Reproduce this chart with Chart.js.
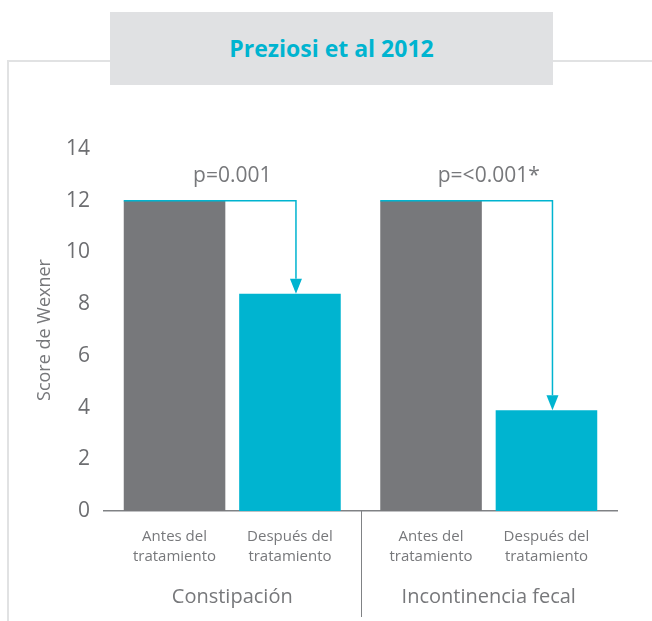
<!DOCTYPE html>
<html>
<head>
    <meta charset="UTF-8">
    <script src="https://cdn.jsdelivr.net/npm/chart.js"></script>
    <style>
        body { margin: 0; background: #fff; overflow: hidden; }
        .frame-top { position: absolute; left: 7px; top: 60px; width: 645px; height: 2px; background: #e1e2e3; }
        .frame-left { position: absolute; left: 7px; top: 60px; width: 2px; height: 561px; background: #e1e2e3; }
        .title-box {
            position: absolute; left: 110px; top: 12px; width: 443px; height: 73px;
            background: #e0e1e3; color: #00b4d0;
            font-family: "Open Sans", sans-serif; font-weight: 700; font-size: 23px;
            line-height: 73px; text-align: center;
        }
        .chart-container { position: absolute; left: 0; top: 0; width: 652px; height: 621px; }
    </style>
</head>
<body>
    <div class="frame-top"></div>
    <div class="frame-left"></div>
    <div class="title-box">Preziosi et al 2012</div>
    <div class="chart-container">
        <canvas id="wexnerChart"></canvas>
    </div>

    <script>
        // data
        const groups = ['Constipación', 'Incontinencia fecal'];
        const phaseLabels = [['Antes del', 'tratamiento'], ['Después del', 'tratamiento']];
        const antes = [12, 12];
        const despues = [8.4, 3.9];
        const pValues = ['p=0.001', 'p=<0.001*'];
        const yMax = 14;
        const yStep = 2;

        const grey = '#77787b';
        const teal = '#00b4d0';
        const textGrey = '#77787b';

        Chart.defaults.font.family = '"Open Sans", sans-serif';
        Chart.defaults.color = textGrey;

        // sub labels, p-values, arrows and the group separator
        const extras = {
            id: 'extras',
            afterDatasetsDraw(chart) {
                const ctx = chart.ctx;
                const area = chart.chartArea;
                const x = chart.scales.x;
                const m0 = chart.getDatasetMeta(0);
                const m1 = chart.getDatasetMeta(1);
                ctx.save();

                // labels under each bar
                ctx.fillStyle = textGrey;
                ctx.font = '15px "Open Sans", sans-serif';
                ctx.textAlign = 'center';
                ctx.textBaseline = 'middle';
                [m0, m1].forEach((meta, d) => {
                    meta.data.forEach(bar => {
                        ctx.fillText(phaseLabels[d][0], bar.x, area.bottom + 26);
                        ctx.fillText(phaseLabels[d][1], bar.x, area.bottom + 46);
                    });
                });

                // p-values
                ctx.font = '21px "Open Sans", sans-serif';
                groups.forEach((g, i) => {
                    ctx.fillText(pValues[i], x.getPixelForValue(i), area.top + 27);
                });

                // arrows from before bar to after bar
                ctx.strokeStyle = teal;
                ctx.fillStyle = teal;
                ctx.lineWidth = 1.5;
                groups.forEach((g, i) => {
                    const b0 = m0.data[i];
                    const b1 = m1.data[i];
                    const sx = b0.x - b0.width / 2;
                    const ex = b1.x + 6;
                    const head = 15;
                    ctx.beginPath();
                    ctx.moveTo(sx, b0.y);
                    ctx.lineTo(ex, b0.y);
                    ctx.lineTo(ex, b1.y - head);
                    ctx.stroke();
                    ctx.beginPath();
                    ctx.moveTo(ex - 6, b1.y - head);
                    ctx.lineTo(ex + 6, b1.y - head);
                    ctx.lineTo(ex, b1.y);
                    ctx.closePath();
                    ctx.fill();
                });

                // separator between groups
                const sep = (x.getPixelForValue(0) + x.getPixelForValue(1)) / 2;
                ctx.strokeStyle = '#808285';
                ctx.lineWidth = 1;
                ctx.beginPath();
                ctx.moveTo(Math.round(sep) + 0.5, area.bottom);
                ctx.lineTo(Math.round(sep) + 0.5, area.bottom + 106);
                ctx.stroke();
                ctx.restore();
            }
        };

        document.addEventListener('DOMContentLoaded', function() {
            const ctx = document.getElementById('wexnerChart').getContext('2d');
            window.wexnerChart = new Chart(ctx, {
                type: 'bar',
                data: {
                    labels: groups,
                    datasets: [{
                        label: 'Antes del tratamiento',
                        data: antes,
                        backgroundColor: grey,
                        categoryPercentage: 0.9,
                        barPercentage: 0.88
                    }, {
                        label: 'Después del tratamiento',
                        data: despues,
                        backgroundColor: teal,
                        categoryPercentage: 0.9,
                        barPercentage: 0.88
                    }]
                },
                options: {
                    responsive: true,
                    maintainAspectRatio: false,
                    animation: false,
                    layout: { padding: { top: 149, left: 34, right: 35, bottom: 0 } },
                    plugins: {
                        legend: { display: false },
                        tooltip: { enabled: false }
                    },
                    scales: {
                        x: {
                            grid: { display: false, drawTicks: false },
                            border: { display: true, color: '#808285', width: 1.5 },
                            ticks: {
                                color: textGrey,
                                font: { size: 20 },
                                padding: 74
                            },
                            afterFit(scale) {
                                scale.height = 110;
                                scale.paddingLeft = 0;
                                scale.paddingRight = 0;
                            }
                        },
                        y: {
                            min: 0,
                            max: yMax,
                            grid: { display: false, drawTicks: false },
                            border: { display: false },
                            ticks: {
                                stepSize: yStep,
                                color: '#6d6e71',
                                font: { size: 21 },
                                padding: 14
                            },
                            title: {
                                display: true,
                                text: 'Score de Wexner',
                                color: textGrey,
                                font: { size: 18 },
                                padding: 0
                            },
                            afterFit(scale) { scale.width = 70; }
                        }
                    }
                },
                plugins: [extras]
            });
        });
    </script>
</body>
</html>
